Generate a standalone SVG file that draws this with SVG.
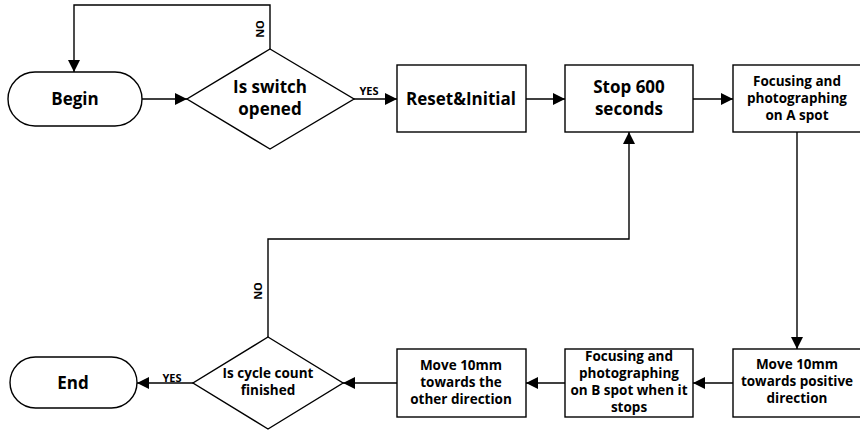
<svg xmlns="http://www.w3.org/2000/svg" width="860" height="430" viewBox="0 0 860 430">
<style>
.s{fill:#fff;stroke:#000;stroke-width:1.4}
.c{fill:none;stroke:#000;stroke-width:1.4}
text{font-family:"Open Sans","Noto Sans","Liberation Sans",sans-serif;font-weight:bold;fill:#000;text-anchor:middle}
.L{font-size:17px}
.M{font-size:13.5px}
.S{font-size:11px}
</style>
<defs>
<marker id="a" markerWidth="12" markerHeight="12" refX="12" refY="6" orient="auto" markerUnits="userSpaceOnUse">
<path d="M0,0 L12,6 L0,12 Z" fill="#000"/>
</marker>
</defs>
<rect width="860" height="430" fill="#fff"/>
<g id="connectors">
<path class="c" d="M270,49 V5 H74 V72" marker-end="url(#a)"/>
<path class="c" d="M142,99 H187" marker-end="url(#a)"/>
<path class="c" d="M354,99 H397" marker-end="url(#a)"/>
<path class="c" d="M526,99 H565" marker-end="url(#a)"/>
<path class="c" d="M693,99 H733" marker-end="url(#a)"/>
<path class="c" d="M797,132 V349" marker-end="url(#a)"/>
<path class="c" d="M733,383 H693" marker-end="url(#a)"/>
<path class="c" d="M565,383 H526" marker-end="url(#a)"/>
<path class="c" d="M397,383 H343" marker-end="url(#a)"/>
<path class="c" d="M193,383 H137" marker-end="url(#a)"/>
<path class="c" d="M268,337 V239 H629 V132" marker-end="url(#a)"/>
<text class="S" transform="translate(264,29) rotate(-90)">NO</text>
<text class="S" x="369" y="95">YES</text>
<text class="S" x="172" y="382">YES</text>
<text class="S" transform="translate(262,291) rotate(-90)">NO</text>
</g>
<g id="begin">
<rect class="s" x="8" y="72" width="134" height="54" rx="27"/>
<text class="L" x="75" y="105">Begin</text>
</g>
<g id="switch">
<polygon class="s" points="270,49 354,99 270,149 187,99"/>
<text class="L" x="270" y="93">Is switch</text>
<text class="L" x="270" y="115">opened</text>
</g>
<g id="reset">
<rect class="s" x="397" y="65" width="129" height="67"/>
<text class="L" x="461" y="105">Reset&amp;Initial</text>
</g>
<g id="stop">
<rect class="s" x="565" y="65" width="128" height="67"/>
<text class="L" x="629" y="93">Stop 600</text>
<text class="L" x="629" y="115">seconds</text>
</g>
<g id="focusA">
<rect class="s" x="733" y="65" width="129" height="67"/>
<text class="M" x="797" y="86">Focusing and</text>
<text class="M" x="797" y="103">photographing</text>
<text class="M" x="797" y="120">on A spot</text>
</g>
<g id="movePos">
<rect class="s" x="733" y="349" width="129" height="68"/>
<text class="M" x="797" y="369">Move 10mm</text>
<text class="M" x="797" y="386">towards positive</text>
<text class="M" x="797" y="403">direction</text>
</g>
<g id="focusB">
<rect class="s" x="565" y="349" width="128" height="68"/>
<text class="M" x="629" y="361">Focusing and</text>
<text class="M" x="629" y="378">photographing</text>
<text class="M" x="629" y="395">on B spot when it</text>
<text class="M" x="629" y="412">stops</text>
</g>
<g id="moveOther">
<rect class="s" x="397" y="349" width="129" height="68"/>
<text class="M" x="461" y="370">Move 10mm</text>
<text class="M" x="461" y="387">towards the</text>
<text class="M" x="461" y="404">other direction</text>
</g>
<g id="cycle">
<polygon class="s" points="268,337 343,383 268,429 193,383"/>
<text class="M" x="268" y="378">Is cycle count</text>
<text class="M" x="268" y="395">finished</text>
</g>
<g id="end">
<rect class="s" x="10" y="357" width="127" height="51" rx="25.5"/>
<text class="L" x="73" y="389">End</text>
</g>
</svg>
